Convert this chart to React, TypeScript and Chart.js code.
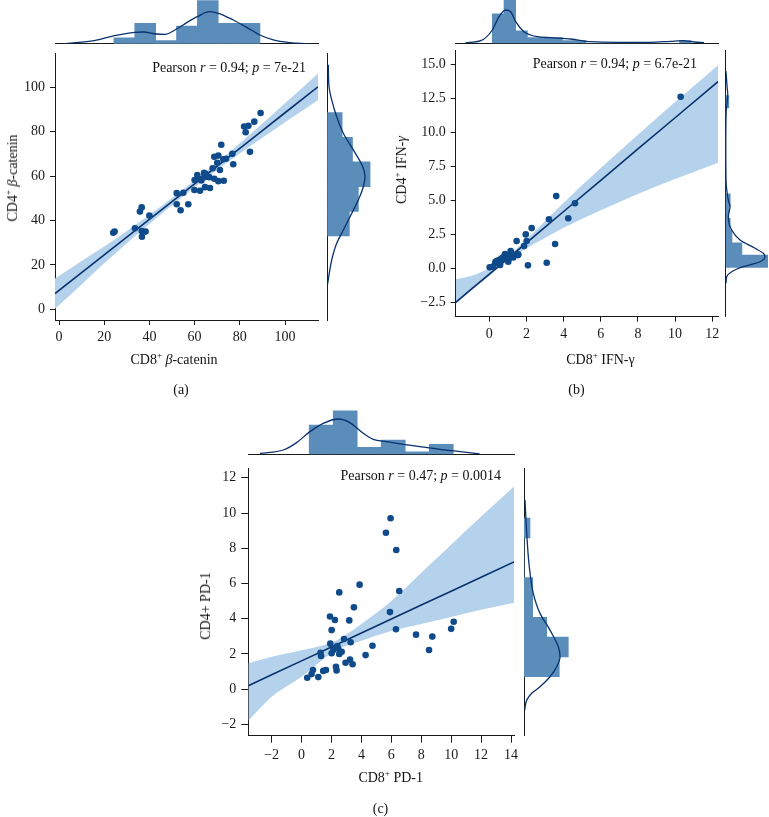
import React, { useEffect, useRef } from "react";
import { Chart, registerables } from "chart.js";
Chart.register(...registerables);

const FONT = '"Liberation Serif", "Times New Roman", serif';
const INK = "#1a1a1a";
const POINT = "#0f4a8a";
const FIT = "#08316d";
const BAND = "#b5d2ec";
const HIST = "#5b8dba";

// ---------- Panel (a): CD8+ vs CD4+ beta-catenin ----------
const aX = [24.0,24.6,33.6,35.8,36.6,36.6,38.3,36.7,40.0,52.1,55.0,52.1,53.8,57.2,59.9,62.4,64.6,66.8,60.0,62.4,64.3,65.0,64.2,66.5,68.7,70.5,72.9,68.0,71.2,70.0,68.7,70.5,72.7,73.9,71.8,76.7,77.1,84.5,81.9,83.8,82.6,86.4,89.2,61.2,63.0];
const aY = [34.5,35.0,36.5,44.0,45.9,35.3,35.0,32.7,42.2,52.3,52.5,47.3,44.6,47.3,53.7,53.4,55.0,54.6,58.2,58.6,59.5,60.9,61.5,59.5,58.8,57.7,57.9,63.5,62.7,66.0,68.7,69.2,67.6,67.8,74.1,70.0,65.3,70.9,82.3,82.6,79.7,84.5,88.4,60.5,58.0];
const aFitX = [-1.77,10,20,30,40,50,60,70,80,90,100,114.6];
const aFitY = [7.08,16.5,24.5,32.5,40.5,48.5,56.5,64.5,72.5,80.5,88.5,100.18];
const aHi = [13.88,21.8,28.3,35.3,42.6,50.1,58.0,66.2,74.8,83.7,92.8,106.18];
const aLo = [0.28,11.2,20.7,29.7,38.4,46.9,55.0,62.8,70.2,77.3,84.2,94.18];
const aXTicks = [0,20,40,60,80,100];
const aYTicks = [0,20,40,60,80,100];
const aTopEdges = [24.3,33.53,42.76,51.99,61.22,70.45,79.68,88.91];
const aTopHist = [0.137,0.467,0.069,0.405,0.984,0.467,0.467];
const aTopKdeX = [3.4,15.6,24.5,33.5,37.3,43.2,46.9,51.8,56.5,61.2,66.8,70.5,77.1,83.0,88.9,94.8,102.2,109.6];
const aTopKde = [0.009,0.069,0.183,0.261,0.268,0.222,0.215,0.330,0.481,0.618,0.732,0.696,0.542,0.375,0.199,0.085,0.023,0];
const aRightEdges = [33.0,44.12,55.24,66.36,77.48,88.6];
const aRightHist = [0.49,0.69,0.95,0.56,0.33];
const aRightKdeY = [11.6,14.6,22.2,29.7,35.7,43.2,49.2,55.2,59.7,64.2,71.8,79.3,86.7,94.3,100.3,110.1];
const aRightKde = [0.009,0.031,0.098,0.209,0.356,0.542,0.689,0.8,0.838,0.787,0.578,0.356,0.209,0.098,0.038,0.022];

// ---------- Panel (b): IFN-gamma ----------
const bX = [0.02,0.18,0.31,0.34,0.40,0.52,0.58,0.61,0.50,0.70,0.83,0.85,0.90,0.95,1.02,1.06,1.10,1.15,1.20,1.29,1.35,1.47,1.54,1.56,1.87,1.96,2.01,2.08,2.28,3.09,3.21,3.54,3.60,4.25,4.61,10.30];
const bY = [0.10,0.15,0.39,0.51,0.56,0.64,0.27,0.69,0.45,0.80,1.00,1.08,0.76,0.90,0.51,0.76,0.90,1.30,1.10,0.83,1.00,2.03,1.00,1.05,1.66,2.52,2.03,0.25,2.98,0.44,3.63,1.82,5.33,3.70,4.80,12.62];
const bFitX = [-1.81,-1,0,1,2,3,4,6,8,10,12.31];
const bFitY = [-2.47,-1.54,-0.39,0.76,1.90,3.05,4.20,6.49,8.79,11.08,13.73];
const bHi = [-0.78,-0.54,0.06,0.96,2.15,3.50,4.85,7.39,9.84,12.23,14.94];
const bLo = [-2.59,-1.64,-0.54,0.56,1.50,2.25,3.00,4.29,5.49,6.58,7.78];
const bXTicks = [0,2,4,6,8,10,12];
const bYTicks = [-2.5,0,2.5,5,7.5,10,12.5,15];
const bTopEdges = [0.16,0.79,1.42,2.05,2.68,3.31,3.94,4.57,5.2,5.83,6.46,7.09,7.72,8.35,8.98,9.61,10.24,10.87];
const bTopHist = [0.68,1.15,0.29,0.13,0.13,0.13,0.065,0.065,0,0,0,0,0,0,0,0,0.065];
const bTopKdeX = [-1.27,-0.46,0.16,0.52,0.88,1.15,1.42,1.86,2.22,2.58,3.3,4.38,5.46,6.89,8.68,9.76,10.39,11.02,11.56];
const bTopKde = [0.014,0.06,0.307,0.614,0.769,0.730,0.499,0.268,0.192,0.152,0.129,0.099,0.037,0.023,0.023,0.046,0.060,0.030,0.014];
const bRightEdges = [0.1,1.0,1.9,2.8,3.7,4.6,5.5,6.4,7.3,8.2,9.1,10.0,10.9,11.8,12.7];
const bRightHist = [0.95,0.36,0.14,0.1,0.07,0.1,0,0,0,0,0,0,0,0.07];
const bRightKdeY = [-1.07,-0.59,-0.22,0.15,0.51,0.88,1.13,1.5,2.11,2.84,3.82,4.55,5.04,6.5,9.0,11.5,12.3,12.8,13.4,14.5];
const bRightKde = [0.007,0.022,0.133,0.391,0.762,0.873,0.836,0.651,0.318,0.133,0.058,0.096,0.058,0.007,0.002,0.01,0.035,0.045,0.03,0.005];

// ---------- Panel (c): PD-1 ----------
const cX = [5.95,5.64,6.33,3.88,2.52,6.53,3.50,5.91,1.90,2.23,3.19,2.01,6.31,10.17,10.00,7.65,8.74,8.52,2.84,1.92,3.28,4.74,2.39,2.12,2.68,1.27,1.30,2.01,2.52,4.28,2.94,3.24,3.41,2.30,2.34,1.45,1.63,0.76,0.67,0.38,1.12,2.45];
const cY = [9.70,8.88,7.90,5.93,5.49,5.57,4.64,4.37,4.12,3.92,3.90,3.35,3.40,3.82,3.42,3.09,2.98,2.22,2.84,2.58,2.66,2.46,2.44,2.22,2.12,2.06,1.88,2.03,1.99,1.93,1.49,1.67,1.41,1.27,1.06,1.03,1.08,1.08,0.85,0.64,0.68,2.30];
const cFitX = [-3.56,-2,0,2,2.5,4,6,8,10,12,14.2];
const cFitY = [0.19,0.81,1.60,2.39,2.59,3.18,3.98,4.77,5.56,6.35,7.22];
const cHi = [1.46,1.84,2.2,2.65,2.85,3.7,5.0,6.6,8.2,9.8,11.5];
const cLo = [-1.80,-0.44,0.7,2.05,2.3,2.75,3.3,3.7,4.1,4.5,4.9];
const cXTicks = [-2,0,2,4,6,8,10,12,14];
const cYTicks = [-2,0,2,4,6,8,10,12];
const cTopEdges = [0.51,2.115,3.72,5.325,6.93,8.535,10.14];
const cTopHist = [0.647,0.962,0.155,0.316,0.057,0.221];
const cTopKdeX = [-2.78,-1.22,-0.33,0.56,1.45,2.45,3.23,4.12,4.79,5.68,6.8,7.9,9.25,10.6,11.9];
const cTopKde = [0.022,0.095,0.258,0.501,0.684,0.779,0.700,0.464,0.331,0.280,0.221,0.170,0.110,0.060,0.007];
const cRightEdges = [0.70,1.826,2.952,4.078,5.204,6.33,7.456,8.582,9.708];
const cRightHist = [0.767,0.963,0.493,0.189,0.189,0,0,0.130];
const cRightKdeY = [-1.19,-0.63,-0.24,0.13,0.70,1.27,1.84,2.4,3.35,4.3,5.44,6.95,8.84,10.74];
const cRightKde = [0.015,0.059,0.167,0.348,0.565,0.711,0.783,0.746,0.565,0.348,0.202,0.115,0.059,0.022];

type Box = { left: number; top: number; width: number; height: number };
type Area = { l: number; t: number; r: number; b: number };

const fmt = (v: number, dec: number) => (v < 0 ? "\u2212" : "") + Math.abs(v).toFixed(dec);
const pairs = (xs: number[], ys: number[]) => xs.map((x, i) => ({ x, y: ys[i] }));
const centers = (e: number[]) => e.slice(0, -1).map((v, i) => (v + e[i + 1]) / 2);

const base = {
  responsive: false,
  animation: false,
  devicePixelRatio: 1,
  events: [],
  plugins: { legend: { display: false }, tooltip: { enabled: false } },
};

function mainConfig(p: any) {
  const yW = p.area.l - p.box.left;
  const xH = p.box.top + p.box.height - p.area.b;
  const tf = { family: FONT, size: 14 };
  const gridOpt = { display: true, drawOnChartArea: false, drawTicks: true, tickLength: p.tick, tickColor: INK, color: INK, lineWidth: 1 };
  return {
    type: "scatter",
    data: {
      datasets: [
        { type: "scatter", data: pairs(p.x, p.y), backgroundColor: POINT, borderWidth: 0, pointRadius: 3.3, order: 0 },
        { type: "line", data: pairs(p.fitX, p.fitY), borderColor: FIT, borderWidth: 1.6, pointRadius: 0, fill: false, order: 1 },
        { type: "line", data: pairs(p.fitX, p.hi), borderWidth: 0, borderColor: "rgba(0,0,0,0)", pointRadius: 0, fill: "+1", backgroundColor: BAND, cubicInterpolationMode: "monotone", order: 2 },
        { type: "line", data: pairs(p.fitX, p.lo), borderWidth: 0, borderColor: "rgba(0,0,0,0)", pointRadius: 0, fill: false, cubicInterpolationMode: "monotone", order: 3 },
      ],
    },
    options: {
      ...base,
      layout: { padding: { left: 0, top: p.area.t - p.box.top, right: p.box.left + p.box.width - p.area.r, bottom: 0 } },
      scales: {
        x: {
          type: "linear", position: "bottom", min: p.xMin, max: p.xMax,
          afterBuildTicks: (s: any) => { s.ticks = p.xTicks.map((v: number) => ({ value: v })); },
          afterFit: (s: any) => { s.height = xH; s.paddingLeft = 0; s.paddingRight = 0; },
          grid: gridOpt,
          border: { display: true, color: INK, width: 1 },
          ticks: { font: tf, color: INK, padding: 4, maxRotation: 0, autoSkip: false, callback: (v: any) => fmt(Number(v), p.xDec) },
        },
        y: {
          type: "linear", position: "left", min: p.yMin, max: p.yMax,
          afterBuildTicks: (s: any) => { s.ticks = p.yTicks.map((v: number) => ({ value: v })); },
          afterFit: (s: any) => { s.width = yW; s.paddingTop = 0; s.paddingBottom = 0; },
          grid: gridOpt,
          border: { display: true, color: INK, width: 1 },
          ticks: { font: tf, color: INK, padding: 5, autoSkip: false, callback: (v: any) => fmt(Number(v), p.yDec) },
        },
      },
    },
  };
}

function topConfig(m: any) {
  return {
    type: "bar",
    data: {
      datasets: [
        { type: "line", data: pairs(m.kx, m.ky), borderColor: FIT, borderWidth: 1.3, pointRadius: 0, fill: false, cubicInterpolationMode: "monotone", order: 0 },
        { type: "bar", data: pairs(centers(m.edges), m.hist), backgroundColor: HIST, borderWidth: 0, barPercentage: 1, categoryPercentage: 1, order: 1 },
      ],
    },
    options: {
      ...base,
      layout: { padding: { left: m.area.l - m.box.left, top: m.area.t - m.box.top, right: m.box.left + m.box.width - m.area.r, bottom: m.box.top + m.box.height - m.area.b } },
      scales: {
        x: {
          type: "linear", position: "bottom", min: m.min, max: m.max, offset: false,
          grid: { display: false, drawTicks: false }, ticks: { display: false },
          border: { display: true, color: INK, width: 1 },
          afterBuildTicks: (s: any) => { s.ticks = [{ value: m.min }]; },
          afterFit: (s: any) => { s.height = 0; s.paddingLeft = 0; s.paddingRight = 0; },
        },
        y: { type: "linear", min: 0, max: m.vmax, display: false },
      },
    },
  };
}

function rightConfig(m: any) {
  return {
    type: "bar",
    data: {
      datasets: [
        { type: "line", indexAxis: "y", data: pairs(m.ky, m.kx).map((d) => ({ x: d.y, y: d.x })), borderColor: FIT, borderWidth: 1.3, pointRadius: 0, fill: false, cubicInterpolationMode: "monotone", order: 0 },
        { type: "bar", indexAxis: "y", data: centers(m.edges).map((c, i) => ({ x: m.hist[i], y: c })), backgroundColor: HIST, borderWidth: 0, barPercentage: 1, categoryPercentage: 1, order: 1 },
      ],
    },
    options: {
      ...base,
      indexAxis: "y",
      layout: { padding: { left: m.area.l - m.box.left, top: m.area.t - m.box.top, right: m.box.left + m.box.width - m.area.r, bottom: m.box.top + m.box.height - m.area.b } },
      scales: {
        y: {
          type: "linear", position: "left", min: m.min, max: m.max, offset: false,
          grid: { display: false, drawTicks: false }, ticks: { display: false },
          border: { display: true, color: INK, width: 1 },
          afterBuildTicks: (s: any) => { s.ticks = [{ value: m.min }]; },
          afterFit: (s: any) => { s.width = 0; s.paddingTop = 0; s.paddingBottom = 0; },
        },
        x: { type: "linear", min: 0, max: m.vmax, display: false },
      },
    },
  };
}

function ChartBox({ box, make }: { box: Box; make: () => any }) {
  const ref = useRef<HTMLCanvasElement>(null);
  useEffect(() => {
    const chart = new Chart(ref.current as HTMLCanvasElement, make());
    return () => chart.destroy();
  }, []);
  return (
    <canvas
      ref={ref}
      width={box.width}
      height={box.height}
      style={{ position: "absolute", left: box.left, top: box.top, width: box.width, height: box.height }}
    />
  );
}

function T({ x, y, rot, end, children }: any) {
  const tx = end ? "-100%" : "-50%";
  return (
    <div
      style={{
        position: "absolute", left: x, top: y, whiteSpace: "nowrap", lineHeight: 1,
        fontFamily: FONT, fontSize: 14, color: "#111",
        transform: `translate(${tx}, -50%)${rot ? " rotate(-90deg)" : ""}`,
      }}
    >
      {children}
    </div>
  );
}

const Sup = ({ children }: any) => (
  <span style={{ fontSize: 9, position: "relative", top: -6 }}>{children}</span>
);

// Layout of the three joint plots (pixel boxes of canvases and plot areas)
const A = {
  main: { box: { left: 0, top: 40, width: 336, height: 312 }, area: { l: 55, t: 53, r: 318, b: 320 } },
  top: { box: { left: 0, top: 0, width: 336, height: 48 }, area: { l: 55, t: 0, r: 318, b: 43.7 } },
  right: { box: { left: 320, top: 45, width: 60, height: 285 }, area: { l: 327.3, t: 53, r: 372.3, b: 320 } },
};
const B = {
  main: { box: { left: 385, top: 40, width: 345, height: 312 }, area: { l: 455.7, t: 50.7, r: 718, b: 316.7 } },
  top: { box: { left: 385, top: 0, width: 345, height: 48 }, area: { l: 455.7, t: 0, r: 718, b: 43.3 } },
  right: { box: { left: 718, top: 45, width: 51, height: 285 }, area: { l: 725.7, t: 50.7, r: 768, b: 316.7 } },
};
const C = {
  main: { box: { left: 195, top: 455, width: 330, height: 335 }, area: { l: 248.3, t: 468.3, r: 514, b: 735.7 } },
  top: { box: { left: 195, top: 400, width: 330, height: 60 }, area: { l: 248.3, t: 409, r: 514, b: 454.3 } },
  right: { box: { left: 515, top: 455, width: 70, height: 290 }, area: { l: 524, t: 468.3, r: 570, b: 735.7 } },
};

const aRange = { xMin: -1.77, xMax: 114.6, yMin: -4.8, yMax: 115.4 };
const bRange = { xMin: -1.81, xMax: 12.31, yMin: -3.52, yMax: 16.0 };
const cRange = { xMin: -3.56, xMax: 14.2, yMin: -2.65, yMax: 12.54 };

export default function App() {
  return (
    <div style={{ position: "absolute", left: 0, top: 0, width: 769, height: 817, overflow: "hidden", background: "#fff" }}>
      {/* Panel (a) */}
      <ChartBox box={A.top.box} make={() => topConfig({ ...A.top, min: aRange.xMin, max: aRange.xMax, vmax: 1, edges: aTopEdges, hist: aTopHist, kx: aTopKdeX, ky: aTopKde })} />
      <ChartBox box={A.right.box} make={() => rightConfig({ ...A.right, min: aRange.yMin, max: aRange.yMax, vmax: 1, edges: aRightEdges, hist: aRightHist, ky: aRightKdeY, kx: aRightKde })} />
      <ChartBox box={A.main.box} make={() => mainConfig({ ...A.main, ...aRange, x: aX, y: aY, fitX: aFitX, fitY: aFitY, hi: aHi, lo: aLo, xTicks: aXTicks, yTicks: aYTicks, xDec: 0, yDec: 0, tick: 5 })} />
      <T x={306} y={68} end>Pearson <i>r</i> = 0.94; <i>p</i> = 7e-21</T>
      <T x={174} y={360}>CD8<Sup>+</Sup> <i>β</i>-catenin</T>
      <T x={13} y={178} rot>CD4<Sup>+</Sup> <i>β</i>-catenin</T>
      <T x={181} y={390}>(a)</T>

      {/* Panel (b) */}
      <ChartBox box={B.top.box} make={() => topConfig({ ...B.top, min: bRange.xMin, max: bRange.xMax, vmax: 1, edges: bTopEdges, hist: bTopHist, kx: bTopKdeX, ky: bTopKde })} />
      <ChartBox box={B.right.box} make={() => rightConfig({ ...B.right, min: bRange.yMin, max: bRange.yMax, vmax: 42.3 / 45, edges: bRightEdges, hist: bRightHist, ky: bRightKdeY, kx: bRightKde })} />
      <ChartBox box={B.main.box} make={() => mainConfig({ ...B.main, ...bRange, x: bX, y: bY, fitX: bFitX, fitY: bFitY, hi: bHi, lo: bLo, xTicks: bXTicks, yTicks: bYTicks, xDec: 0, yDec: 1, tick: 5 })} />
      <T x={697} y={64.3} end>Pearson <i>r</i> = 0.94; <i>p</i> = 6.7e-21</T>
      <T x={600.5} y={360}>CD8<Sup>+</Sup> IFN-γ</T>
      <T x={402} y={170} rot>CD4<Sup>+</Sup> IFN-<i>γ</i></T>
      <T x={576.5} y={390}>(b)</T>

      {/* Panel (c) */}
      <ChartBox box={C.top.box} make={() => topConfig({ ...C.top, min: cRange.xMin, max: cRange.xMax, vmax: 1, edges: cTopEdges, hist: cTopHist, kx: cTopKdeX, ky: cTopKde })} />
      <ChartBox box={C.right.box} make={() => rightConfig({ ...C.right, min: cRange.yMin, max: cRange.yMax, vmax: 1, edges: cRightEdges, hist: cRightHist, ky: cRightKdeY, kx: cRightKde })} />
      <ChartBox box={C.main.box} make={() => mainConfig({ ...C.main, ...cRange, x: cX, y: cY, fitX: cFitX, fitY: cFitY, hi: cHi, lo: cLo, xTicks: cXTicks, yTicks: cYTicks, xDec: 0, yDec: 0, tick: 7 })} />
      <T x={501} y={476} end>Pearson <i>r</i> = 0.47; <i>p</i> = 0.0014</T>
      <T x={390.7} y={778}>CD8<Sup>+</Sup> PD-1</T>
      <T x={206} y={606} rot>CD4+ PD-1</T>
      <T x={380.5} y={809}>(c)</T>
    </div>
  );
}
